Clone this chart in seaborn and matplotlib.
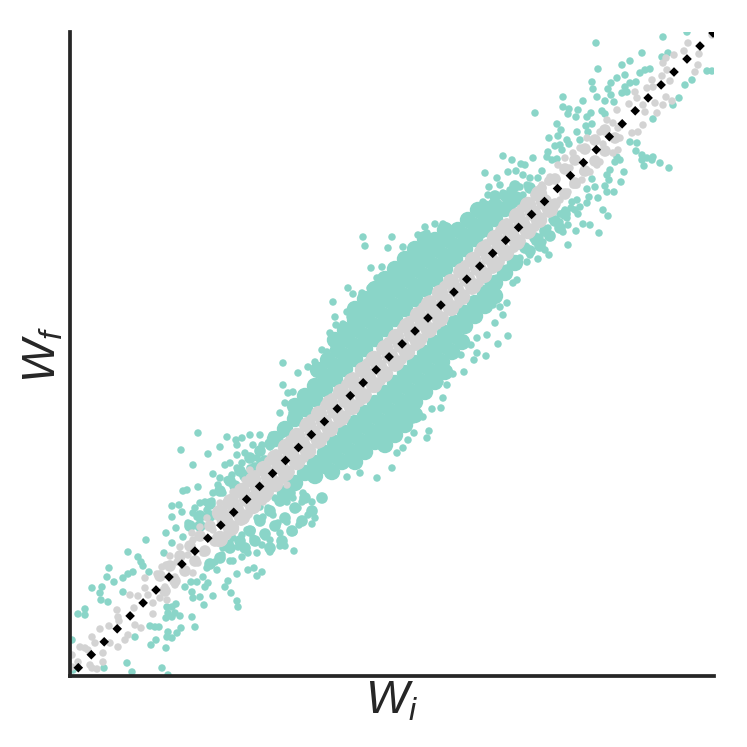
#!/usr/bin/env python
import matplotlib
matplotlib.use("Agg")
import matplotlib.pyplot as plt
import numpy as np
import seaborn as sns

GREEN = "#8AD5C8"
GRAY = "#D3D3D3"

# Solid part of the green cloud, drawn with fatter dots
green_core = [
    (205,237),(215,247),(225,257),(235,267),(245,277),(255,287),(265,297),(275,307),(285,317),(295,327),
    (305,337),(315,347),(325,357),(335,367),(345,377),(355,387),(365,397),(375,407),(385,417),(395,427),
    (405,437),(415,447),(425,457),(435,467),(445,477),
    (225,270),(235,280),(245,290),(255,300),(265,310),(275,320),(285,330),(295,340),(305,350),(315,360),
    (325,370),(335,380),(345,390),(355,400),(365,410),(375,420),(385,430),(395,440),(405,450),(415,460),(425,470),
    (248,306),(258,316),(268,326),(278,336),(288,346),(298,356),(308,366),(318,376),(328,386),(338,396),
    (348,406),(358,416),(368,426),(378,436),(388,446),(398,456),(408,466),
    (265,336),(275,346),(285,356),(295,366),(305,376),(315,386),(325,396),(335,406),(345,416),(355,426),(365,436),(375,446),
    (285,367),(295,377),(305,387),(315,397),(325,407),(335,417),(345,427),(355,437),
    (215,183),(225,193),(235,203),(245,213),(255,223),(265,233),(275,243),(285,253),(295,263),(305,273),
    (315,283),(325,293),(335,303),(345,313),(355,323),(365,333),(375,343),(385,353),(395,363),(405,373),
    (415,383),(425,393),(435,403),(445,413),
    (245,200),(255,210),(265,220),(275,230),(285,240),(295,250),(305,260),(315,270),(325,280),(335,290),
    (345,300),(355,310),(365,320),(375,330),(385,340),(395,350),(405,360),(415,370),(425,380),
    (262,204),(272,214),(282,224),(292,234),(302,244),(312,254),(322,264),(332,274),(342,284),(352,294),
    (362,304),(372,314),(382,324),(392,334),
    (285,214),(295,224),(305,234),(315,244),(325,254),(335,264),(345,274),(355,284),(365,294),(375,304),
    (315,231),(325,241),(335,251),(345,261),
]

# Thick but not solid parts of the green cloud
green_dense = [
    (140,112),(150,118),(160,128),(170,135),(180,145),(190,155),(200,165),(210,175),(220,183),(175,128),
    (185,135),(195,142),(205,150),(215,158),(225,168),(235,178),(200,128),(212,135),(222,145),(232,155),
    (242,165),(252,178),(120,150),(130,160),(140,172),(150,185),(160,195),(170,205),(180,218),(190,225),
    (200,232),(165,190),(175,200),(185,208),(195,215),(140,160),(130,150),(440,468),(450,476),(460,488),
    (445,490),(435,480),(425,480),(415,470),(455,428),(465,438),(475,445),(485,455),(495,462),(460,425),
    (470,430),(480,440),(490,448),
]

green_low = [
    (128,243),(111,226),(138,222),(123,211),(150,229),(143,202),(117,186),(128,189),(102,170),(109,171),
    (112,164),(102,159),(118,153),(106,148),(96,143),(102,133),(113,139),(76,136),(58,124),(68,119),
    (71,114),(73,110),(94,123),(39,108),(37,99),(44,94),(53,98),(58,102),(63,104),(79,104),
    (22,88),(32,89),(30,83),(53,84),(31,76),(38,74),(8,62),(15,67),(15,61),(65,39),
    (80,50),(85,49),(89,49),(86,36),(81,31),(96,28),(98,44),(97,39),(102,38),(111,48),
    (107,43),(122,59),(125,49),(57,13),(62,4),(92,8),(34,8),(98,1),(97,69),(102,69),
    (106,72),(98,63),(105,63),(110,60),(96,58),(102,59),(115,89),(121,94),(127,94),(133,99),
    (140,113),(145,114),(137,108),(147,106),(122,84),(123,78),(130,79),(135,89),(138,93),(143,80),
    (134,71),(155,89),(158,95),(161,83),(167,75),(168,69),(152,121),(153,128),(160,133),(163,138),
    (172,141),(177,146),(168,129),(160,115),(163,115),(172,119),(178,123),(187,123),(178,106),(184,108),
    (187,100),(192,104),(167,102),(200,124),(210,130),(215,130),(224,125),(192,131),(200,136),(195,139),
    (183,138),(182,146),(187,158),(193,159),(203,161),(208,153),(217,154),(210,143),(224,144),(229,151),
    (242,152),(238,161),(245,158),(190,169),(198,168),(205,178),(217,174),(223,178),(233,183),(232,174),
    (228,168),(242,174),(113,185),(130,173),(135,174),(142,175),(125,168),(123,163),(127,159),(137,166),
    (143,183),(148,191),(153,183),(157,196),(150,198),(162,201),(167,208),(160,213),(155,211),(172,213),
    (180,208),(167,221),(175,223),(187,218),(190,214),(167,231),(166,236),(172,238),(157,239),(180,241),
    (190,241),(183,231),(192,231),(200,229),(202,241),(212,241),(220,243),(2,36),(3,6),
]

green_mid = [
    (293,439),(295,430),(322,439),(301,408),(278,388),(283,382),(263,374),(265,359),(273,352),(266,351),
    (277,364),(280,359),(260,343),(270,336),(252,326),(257,324),(213,313),(228,303),(238,309),(245,314),
    (253,311),(213,291),(218,283),(223,284),(215,273),(210,263),(222,263),(348,441),(355,449),(357,443),
    (365,452),(373,452),(333,429),(318,428),(345,429),(353,433),(312,409),(307,398),(313,398),(292,383),
    (300,388),(286,368),(438,340),(428,332),(407,338),(401,331),(417,341),(416,320),(407,323),(404,316),
    (394,304),(391,321),(383,302),(377,291),(370,294),(373,278),(362,267),(371,268),(353,259),(343,256),
    (359,245),(357,238),(344,243),(338,236),(333,228),(322,208),(307,198),(327,223),(290,203),(277,199),
    (437,373),(433,361),(425,353),(443,393),(437,408),(427,398),(418,393),(447,396),(410,369),(403,366),
    (423,371),(430,369),(397,349),
]

green_high = [
    (526,633),(572,623),(560,615),(552,611),(528,607),(593,639),(617,644),(592,619),(598,623),(580,607),
    (575,606),(570,603),(555,601),(547,598),(566,594),(560,593),(555,589),(552,583),(557,584),(541,593),
    (538,587),(541,581),(544,574),(535,575),(522,594),(523,587),(527,579),(493,579),(493,569),(499,567),
    (498,562),(506,559),(508,566),(513,575),(517,559),(521,563),(532,565),(535,562),(465,563),(487,552),
    (491,546),(488,540),(479,538),(507,544),(510,536),(516,550),(522,552),(518,544),(497,536),(499,532),
    (490,531),(485,530),(492,526),(478,524),(477,519),(482,516),(487,517),(433,520),(442,516),(451,512),
    (455,511),(463,518),(472,505),(415,503),(438,504),(446,505),(427,498),(453,501),(460,498),(468,498),
    (419,489),(430,491),(440,486),(450,489),(457,491),(418,481),(433,483),(443,479),(453,481),(413,474),
    (425,474),(438,473),(410,464),(420,461),(430,464),(417,451),(427,454),(412,441),(560,534),(567,533),
    (566,525),(572,521),(577,518),(583,519),(582,516),(574,510),(572,516),(590,513),(599,508),(609,578),
    (603,571),(583,557),(615,591),(622,596),(637,605),(642,605),(547,519),(550,516),(545,514),(554,504),
    (540,506),(537,501),(539,496),(551,494),(535,490),(537,484),(544,484),(522,497),(525,489),(517,487),
    (528,478),(519,479),(507,476),(502,474),(517,473),(510,469),(505,466),(501,468),(495,466),(490,462),
    (508,462),(533,466),(538,460),(497,458),(490,454),(482,456),(498,451),(493,444),(506,445),(513,452),
    (520,451),(529,443),(478,448),(470,439),(473,434),(498,431),(465,434),(475,426),(479,421),(453,428),
    (460,421),(468,417),(450,418),(457,414),(447,413),
]

# Solid part of the gray band
gray_core = [
    (150,163),(161,174),(172,185),(183,196),(194,207),(205,218),(216,229),(227,240),(238,251),(249,262),
    (260,273),(271,284),(282,295),(293,306),(304,317),(315,328),(326,339),(337,350),(348,361),(359,372),
    (370,383),(381,394),(392,405),(403,416),(414,427),(425,438),(436,449),(447,460),(458,471),(469,482),
    (155,155),(166,166),(177,177),(188,188),(199,199),(210,210),(221,221),(232,232),(243,243),(254,254),
    (265,265),(276,276),(287,287),(298,298),(309,309),(320,320),(331,331),(342,342),(353,353),(364,364),
    (375,375),(386,386),(397,397),(408,408),(419,419),(430,430),(441,441),(452,452),(463,463),(474,474),
    (150,137),(161,148),(172,159),(183,170),(194,181),(205,192),(216,203),(227,214),(238,225),(249,236),
    (260,247),(271,258),(282,269),(293,280),(304,291),(315,302),(326,313),(337,324),(348,335),(359,346),
    (370,357),(381,368),(392,379),(403,390),(414,401),(425,412),(436,423),(447,434),(458,445),(469,456),(480,467),
]

# Edges of the solid gray band, to fill the gaps between the fat dots
gray_edge_x = [
    150,157,164,171,178,185,192,199,206,213,220,227,234,241,248,255,262,269,276,283,290,297,304,311,
    318,325,332,339,346,353,360,367,374,381,388,395,402,409,416,423,430,437,444,451,458,465,472,479,
]
gray_edge_up = [
    166,173,180,187,194,201,208,215,222,229,236,243,250,257,264,271,278,285,292,299,306,313,320,327,
    334,341,348,355,362,369,376,383,390,397,404,411,418,425,432,439,446,453,460,467,474,481,488,495,
]
gray_edge_down = [
    134,141,148,155,162,169,176,183,190,197,204,211,218,225,232,239,246,253,260,267,274,281,288,295,
    302,309,316,323,330,337,344,351,358,365,372,379,386,393,400,407,414,421,428,435,442,449,456,463,
]

# Ends of the gray band, thinner than the middle
gray_dense = [
    (90,100),(100,110),(110,120),(120,130),(130,140),(140,150),(95,85),(105,95),(115,105),(125,115),
    (135,125),(145,135),(485,497),(495,507),(505,516),(515,527),(525,536),(535,546),(485,472),(495,482),
    (505,493),(515,505),(525,515),(535,525),(545,538),
]

gray_low = [
    (2,21),(8,14),(2,9),(20,11),(22,8),(27,7),(33,14),(33,23),(10,29),(15,28),
    (22,39),(25,33),(18,26),(30,47),(39,50),(49,55),(47,66),(48,59),(40,33),(48,29),
    (55,36),(58,41),(65,51),(71,48),(83,62),(64,68),(60,81),(68,80),(75,88),(75,98),
    (87,102),(92,109),(96,111),(100,120),(110,129),(78,81),(83,73),(90,78),(97,76),(95,89),
    (105,91),(105,99),(107,114),(123,103),(128,113),(118,121),(123,136),(122,143),(130,149),(137,158),
    (143,146),(147,136),(133,123),(157,163),(150,173),(163,184),(175,196),(180,206),(198,189),(203,199),
    (187,179),(193,174),(173,174),(167,169),(217,191),(210,213),(223,213),(220,226),
]

gray_high = [
    (642,641),(618,633),(614,625),(629,622),(604,621),(596,618),(593,613),(597,606),(628,611),(625,604),
    (592,600),(600,595),(582,596),(583,589),(577,588),(565,584),(567,578),(559,572),(585,573),(593,571),
    (596,579),(602,575),(587,563),(573,571),(575,564),(547,566),(537,556),(543,553),(548,548),(573,551),
    (568,544),(562,543),(550,538),(530,544),(533,532),(548,526),(543,523),(530,514),(527,511),(520,504),
    (512,496),(507,491),(517,538),(510,528),(503,523),(495,518),(488,511),(480,499),(472,491),(500,508),
    (513,504),(503,491),(498,484),(490,476),(482,469),(470,488),
]

diag_vals = [
    8.3,21.3,34.2,47.2,60.1,73.1,86,99,111.9,124.9,
    137.8,150.8,163.7,176.7,189.6,202.6,215.5,228.5,241.4,254.4,
    267.3,280.3,293.2,306.2,319.1,332.1,345,358,370.9,383.9,
    396.8,409.8,422.7,435.7,448.6,461.6,474.5,487.5,500.4,513.4,
    526.3,539.3,552.2,565.2,578.1,591.1,604,617,630,643,
]


def scatter(ax, points, size, color, marker="o"):
    pts = np.array(points)
    sns.scatterplot(ax=ax, x=pts[:, 0], y=pts[:, 1], s=size, color=color,
                    marker=marker, edgecolor="none", linewidth=0, legend=False)


sns.set_style("white")
plt.rcParams["mathtext.fontset"] = "custom"
plt.rcParams["mathtext.it"] = "Liberation Sans:italic"
plt.rcParams["mathtext.rm"] = "Liberation Sans"

fig = plt.figure(figsize=(7.47, 7.47), dpi=100)
ax = fig.add_axes([70 / 747, 71 / 747, 644 / 747, 644 / 747])

scatter(ax, green_core, 140, GREEN)
scatter(ax, green_dense, 70, GREEN)
scatter(ax, green_low + green_mid + green_high, 29, GREEN)
scatter(ax, gray_core, 140, GRAY)
scatter(ax, list(zip(gray_edge_x, gray_edge_up)), 50, GRAY)
scatter(ax, list(zip(gray_edge_x, gray_edge_down)), 50, GRAY)
scatter(ax, gray_dense, 70, GRAY)
scatter(ax, gray_low + gray_high, 29, GRAY)
scatter(ax, list(zip(diag_vals, diag_vals)), 24, "black", marker="D")

ax.set_xlim(0, 644)
ax.set_ylim(0, 644)
ax.set_xticks([])
ax.set_yticks([])
ax.set_xlabel("$W_i$", fontsize=33, color="#262626", labelpad=2)
ax.set_ylabel("$W_f$", fontsize=33, color="#262626", labelpad=3)

sns.despine(ax=ax)
for side in ["left", "bottom"]:
    ax.spines[side].set_linewidth(2.7)
    ax.spines[side].set_color("#262626")

fig.savefig("out.png", dpi=100)
